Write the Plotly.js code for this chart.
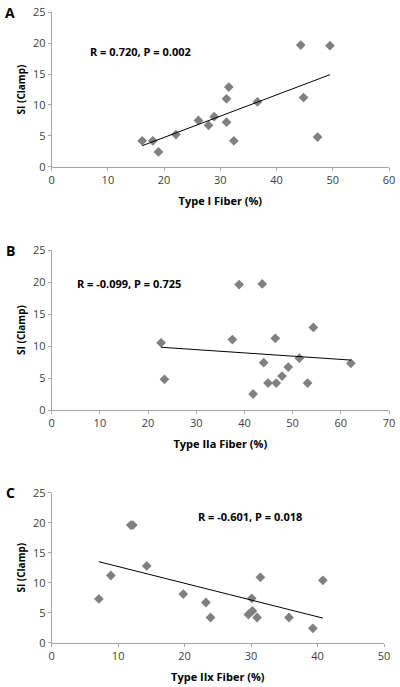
<!DOCTYPE html>
<html>
<head>
<meta charset="utf-8">
<script src="https://cdn.plot.ly/plotly-3.0.1.min.js"></script>
<style>html,body{margin:0;padding:0;background:#fff;}#chart{width:400px;height:687px;}</style>
</head>
<body>
<div id="chart"></div>
<script>
// Panel A: Type I fiber (%) vs SI (Clamp)
const typeI_x = [16.1, 18.0, 19.0, 22.1, 26.1, 27.9, 28.9, 31.1, 31.1, 31.5, 32.4, 36.6, 44.3, 44.8, 47.3, 49.5];
const typeI_y = [4.2, 4.2, 2.4, 5.2, 7.5, 6.7, 8.1, 11.0, 7.2, 12.9, 4.2, 10.5, 19.7, 11.2, 4.8, 19.6];
const typeI_fitX = [16.1, 49.5];
const typeI_fitY = [3.4, 14.9];

// Panel B: Type IIa fiber (%) vs SI (Clamp)
const typeIIa_x = [22.7, 23.4, 37.5, 38.9, 41.8, 43.7, 44.0, 44.9, 46.4, 46.6, 47.8, 49.1, 51.4, 53.1, 54.3, 62.1];
const typeIIa_y = [10.5, 4.8, 11.0, 19.6, 2.5, 19.7, 7.4, 4.2, 11.2, 4.2, 5.3, 6.7, 8.1, 4.2, 12.9, 7.3];
const typeIIa_fitX = [22.7, 62.1];
const typeIIa_fitY = [9.8, 7.8];

// Panel C: Type IIx fiber (%) vs SI (Clamp)
const typeIIx_x = [7.1, 8.9, 11.9, 12.2, 14.3, 19.8, 23.2, 23.9, 29.6, 30.1, 30.2, 30.9, 31.4, 35.7, 39.3, 40.8];
const typeIIx_y = [7.3, 11.2, 19.6, 19.6, 12.8, 8.1, 6.7, 4.2, 4.7, 7.4, 5.3, 4.2, 10.9, 4.2, 2.4, 10.4];
const typeIIx_fitX = [7.1, 40.8];
const typeIIx_fitY = [13.5, 4.1];

const panelLetters = ['A', 'B', 'C'];
const statLabels = ['R = 0.720, P = 0.002', 'R = -0.099, P = 0.725', 'R = -0.601, P = 0.018'];
const xTitles = ['Type I Fiber (%)', 'Type IIa Fiber (%)', 'Type IIx Fiber (%)'];
const yTitle = 'SI (Clamp)';

const W = 400, H = 687;
const font = 'Open Sans, Liberation Sans, sans-serif';
const markerStyle = {symbol: 'diamond', size: 7.5, color: '#808080', line: {width: 0}};
const lineStyle = {color: '#000', width: 1};

function scatter(x, y, ax) {
  return {x, y, xaxis: 'x' + ax, yaxis: 'y' + ax, type: 'scatter', mode: 'markers', marker: markerStyle, hoverinfo: 'skip', showlegend: false};
}
function fit(x, y, ax) {
  return {x, y, xaxis: 'x' + ax, yaxis: 'y' + ax, type: 'scatter', mode: 'lines', line: lineStyle, hoverinfo: 'skip', showlegend: false};
}

const data = [
  scatter(typeI_x, typeI_y, ''), fit(typeI_fitX, typeI_fitY, ''),
  scatter(typeIIa_x, typeIIa_y, '2'), fit(typeIIa_fitX, typeIIa_fitY, '2'),
  scatter(typeIIx_x, typeIIx_y, '3'), fit(typeIIx_fitX, typeIIx_fitY, '3')
];

// pixel boxes of plot areas [left, right, top, bottom]
const boxes = [[51.7, 389, 12.3, 166.7], [51.7, 389, 250, 410], [51.7, 384, 492.7, 642.7]];
const xRanges = [[0, 60], [0, 70], [0, 50]];

function xaxis(i) {
  const b = boxes[i];
  return {
    domain: [b[0] / W, b[1] / W], range: xRanges[i], dtick: 10,
    showgrid: false, zeroline: false, showline: true, linecolor: '#a6a6a6', linewidth: 1,
    ticks: 'outside', ticklen: 3, tickcolor: '#a6a6a6',
    tickfont: {family: font, size: 11, color: '#404040'},
    title: {text: '<b>' + xTitles[i] + '</b>', font: {family: font, size: 11, color: '#000'}, standoff: 11},
    anchor: i === 0 ? 'y' : 'y' + (i + 1), fixedrange: true
  };
}
function yaxis(i) {
  const b = boxes[i];
  return {
    domain: [1 - b[3] / H, 1 - b[2] / H], range: [0, 25], dtick: 5,
    showgrid: false, zeroline: false, showline: true, linecolor: '#a6a6a6', linewidth: 1,
    ticks: 'outside', ticklen: 3, tickcolor: '#a6a6a6',
    tickfont: {family: font, size: 11, color: '#404040'},
    title: {text: '<b>' + yTitle + '</b>', font: {family: font, size: 10, color: '#000'}, standoff: 5},
    anchor: i === 0 ? 'x' : 'x' + (i + 1), fixedrange: true
  };
}

const statPos = [[140, 51.7], [128.5, 284], [249.5, 516.7]];
const annotations = [];
for (let i = 0; i < 3; i++) {
  annotations.push({
    xref: 'paper', yref: 'paper', x: 10 / W, y: 1 - boxes[i][2] / H,
    text: '<b>' + panelLetters[i] + '</b>', showarrow: false,
    xanchor: 'center', yanchor: 'middle', font: {family: font, size: 14, color: '#000'}
  });
  annotations.push({
    xref: 'paper', yref: 'paper', x: statPos[i][0] / W, y: 1 - statPos[i][1] / H,
    text: '<b>' + statLabels[i] + '</b>', showarrow: false,
    xanchor: 'center', yanchor: 'middle', font: {family: font, size: 11, color: '#000'}
  });
}

const layout = {
  width: W, height: H,
  margin: {l: 0, r: 0, t: 0, b: 0},
  paper_bgcolor: '#fff', plot_bgcolor: '#fff',
  xaxis: xaxis(0), yaxis: yaxis(0),
  xaxis2: xaxis(1), yaxis2: yaxis(1),
  xaxis3: xaxis(2), yaxis3: yaxis(2),
  annotations: annotations
};

Plotly.newPlot('chart', data, layout, {staticPlot: true, displayModeBar: false});
</script>
</body>
</html>
